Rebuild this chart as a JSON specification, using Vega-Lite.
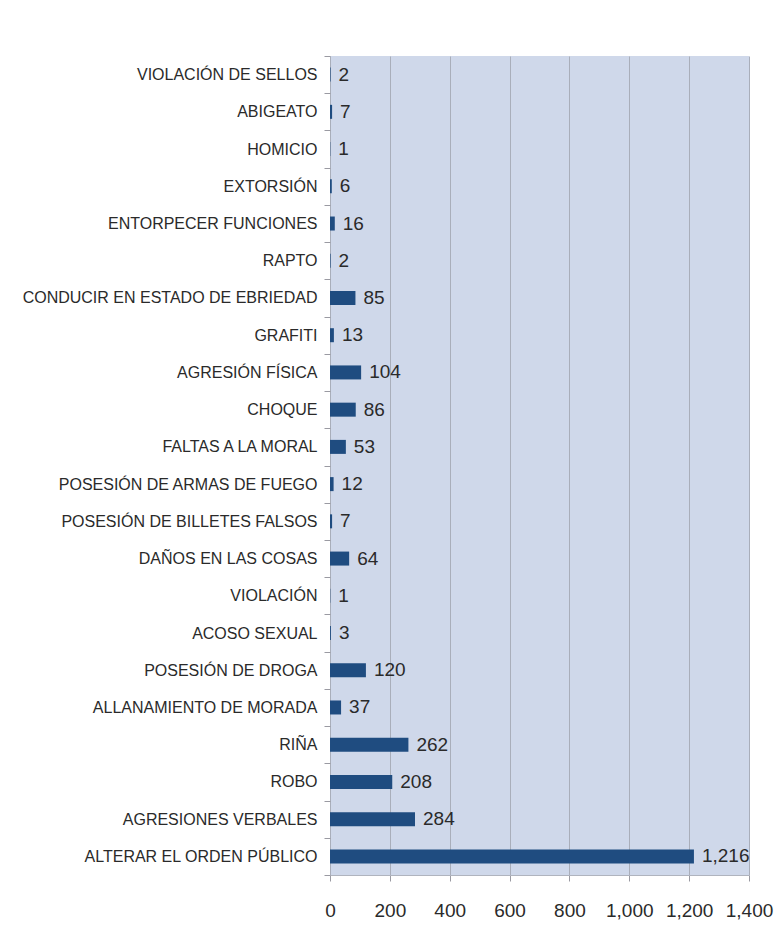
{
  "$schema": "https://vega.github.io/schema/vega-lite/v6.json",
  "autosize": "none",
  "padding": {"left": 330, "top": 56, "right": 30, "bottom": 61},
  "width": 419,
  "height": 819,
  "background": "white",
  "data": {
    "values": [
      {"delito": "VIOLACIÓN DE SELLOS", "casos": 2},
      {"delito": "ABIGEATO", "casos": 7},
      {"delito": "HOMICIO", "casos": 1},
      {"delito": "EXTORSIÓN", "casos": 6},
      {"delito": "ENTORPECER FUNCIONES", "casos": 16},
      {"delito": "RAPTO", "casos": 2},
      {"delito": "CONDUCIR EN ESTADO DE EBRIEDAD", "casos": 85},
      {"delito": "GRAFITI", "casos": 13},
      {"delito": "AGRESIÓN FÍSICA", "casos": 104},
      {"delito": "CHOQUE", "casos": 86},
      {"delito": "FALTAS A LA MORAL", "casos": 53},
      {"delito": "POSESIÓN DE ARMAS DE FUEGO", "casos": 12},
      {"delito": "POSESIÓN DE BILLETES FALSOS", "casos": 7},
      {"delito": "DAÑOS EN LAS COSAS", "casos": 64},
      {"delito": "VIOLACIÓN", "casos": 1},
      {"delito": "ACOSO SEXUAL", "casos": 3},
      {"delito": "POSESIÓN DE DROGA", "casos": 120},
      {"delito": "ALLANAMIENTO DE MORADA", "casos": 37},
      {"delito": "RIÑA", "casos": 262},
      {"delito": "ROBO", "casos": 208},
      {"delito": "AGRESIONES VERBALES", "casos": 284},
      {"delito": "ALTERAR EL ORDEN PÚBLICO", "casos": 1216}
    ]
  },
  "encoding": {
    "y": {
      "field": "delito",
      "type": "nominal",
      "sort": null,
      "scale": {"paddingInner": 0, "paddingOuter": 0},
      "axis": {
        "title": null,
        "tickBand": "extent",
        "tickSize": 6,
        "tickColor": "#9a9aa2",
        "domain": false,
        "grid": false,
        "labelFont": "Liberation Sans",
        "labelFontSize": 16,
        "labelColor": "#2a2a2a",
        "labelPadding": 7,
        "labelLimit": 400
      }
    },
    "x": {
      "field": "casos",
      "type": "quantitative",
      "scale": {"domain": [0, 1400], "nice": false},
      "axis": {
        "title": null,
        "values": [0, 200, 400, 600, 800, 1000, 1200, 1400],
        "format": ",d",
        "grid": true,
        "gridColor": "#a9aeba",
        "gridWidth": 1,
        "tickSize": 6,
        "tickColor": "#9a9aa2",
        "domainColor": "#b0b4be",
        "labelFont": "Liberation Sans",
        "labelFontSize": 19,
        "labelColor": "#2a2a2a",
        "labelPadding": 20,
        "labelFlush": false
      }
    }
  },
  "layer": [
    {
      "mark": {"type": "bar", "size": 14, "color": "#1f4c80"}
    },
    {
      "mark": {"type": "text", "align": "left", "baseline": "middle", "dx": 8, "font": "Liberation Sans", "fontSize": 19, "color": "#2a2a2a"},
      "encoding": {"text": {"field": "casos", "type": "quantitative", "format": ",d"}}
    }
  ],
  "config": {
    "view": {"fill": "#cfd8ea", "stroke": null}
  }
}
